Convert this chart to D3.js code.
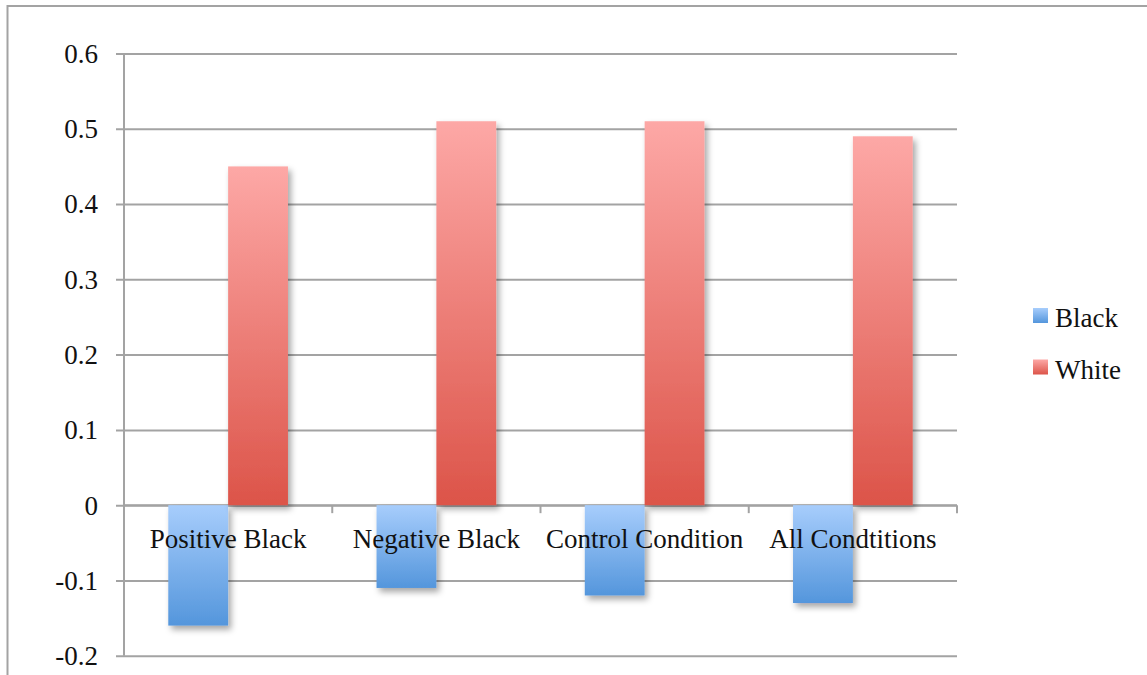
<!DOCTYPE html>
<html>
<head>
<meta charset="utf-8">
<script src="https://cdn.jsdelivr.net/npm/d3@7"></script>
<style>
  html, body { margin: 0; padding: 0; background: #fff; }
  svg { display: block; }
  text { font-family: "Liberation Serif", "DejaVu Serif", serif; fill: #111; }
</style>
</head>
<body>
<svg id="chart" width="1147" height="675"></svg>
<script>
// Condition categories and mean scores for each group
const categories = ["Positive Black", "Negative Black", "Control Condition", "All Condtitions"];
const seriesNames = ["Black", "White"];
const blackValues = [-0.16, -0.11, -0.12, -0.13];
const whiteValues = [0.45, 0.51, 0.51, 0.49];
const yTicks = [-0.2, -0.1, 0, 0.1, 0.2, 0.3, 0.4, 0.5, 0.6];

const svg = d3.select("#chart");
const width = 1147, height = 675;
const plot = { left: 124, right: 957, top: 53.5, bottom: 655.7 };
const fontSize = "27px";

const x = d3.scaleBand().domain(categories).range([plot.left, plot.right]).paddingInner(0).paddingOuter(0);
const inner = d3.scaleBand().domain(seriesNames).range([0, x.bandwidth()]).paddingInner(0).paddingOuter(0.74);
const y = d3.scaleLinear().domain([-0.2, 0.6]).range([plot.bottom, plot.top]);

const defs = svg.append("defs");
function grad(id, top, bottom) {
  const g = defs.append("linearGradient").attr("id", id).attr("x1", 0).attr("y1", 0).attr("x2", 0).attr("y2", 1);
  g.append("stop").attr("offset", "0%").attr("stop-color", top);
  g.append("stop").attr("offset", "100%").attr("stop-color", bottom);
}
grad("gBlack", "#a7cdfc", "#5496dc");
grad("gWhite", "#fda8a6", "#dc5449");
const f = defs.append("filter").attr("id", "shadow").attr("x", "-20%").attr("y", "-20%").attr("width", "150%").attr("height", "150%");
f.append("feDropShadow").attr("dx", 3).attr("dy", 4).attr("stdDeviation", 3).attr("flood-color", "#000").attr("flood-opacity", 0.35);

// outer frame
svg.append("path")
  .attr("d", `M7.5,${height} V6 H${width}`)
  .attr("fill", "none").attr("stroke", "#a3a3a3").attr("stroke-width", 2);

// y axis with gridlines
const yAxis = d3.axisLeft(y).tickValues(yTicks).tickSize(-(plot.right - plot.left)).tickPadding(26)
  .tickFormat(d => d === 0 ? "0" : d3.format(".1f")(d).replace("\u2212", "-"));
const gy = svg.append("g").attr("transform", `translate(${plot.left},0)`).call(yAxis);
gy.select(".domain").remove();
gy.selectAll(".tick line").attr("x1", -8).attr("stroke", "#a3a3a3").attr("stroke-width", 2);
gy.selectAll(".tick text").style("font-size", fontSize).attr("dy", "0.33em").attr("fill", "#111");
svg.append("line").attr("x1", plot.left).attr("x2", plot.left).attr("y1", plot.top).attr("y2", plot.bottom)
  .attr("stroke", "#a3a3a3").attr("stroke-width", 2);

// x axis at zero with tick marks at category boundaries
const bounds = categories.map(c => x(c)).concat([plot.right]);
svg.append("line").attr("x1", plot.left).attr("x2", plot.right).attr("y1", y(0)).attr("y2", y(0))
  .attr("stroke", "#a3a3a3").attr("stroke-width", 2);
svg.selectAll(".xtick").data(bounds).enter().append("line")
  .attr("x1", d => d).attr("x2", d => d).attr("y1", y(0)).attr("y2", y(0) + 8)
  .attr("stroke", "#a3a3a3").attr("stroke-width", 2);

// bars
const rows = categories.map((c, i) => ({ c, vals: [blackValues[i], whiteValues[i]] }));
const groups = svg.selectAll(".cat").data(rows).enter().append("g").attr("transform", d => `translate(${x(d.c)},0)`);
groups.selectAll("rect").data(d => d.vals.map((v, j) => ({ v, s: seriesNames[j] }))).enter().append("rect")
  .attr("x", d => inner(d.s))
  .attr("width", inner.bandwidth())
  .attr("y", d => Math.min(y(d.v), y(0)))
  .attr("height", d => Math.abs(y(d.v) - y(0)))
  .attr("fill", d => d.s === "Black" ? "url(#gBlack)" : "url(#gWhite)")
  .attr("filter", "url(#shadow)");

// category labels
svg.selectAll(".catlabel").data(categories).enter().append("text")
  .attr("x", d => x(d) + x.bandwidth() / 2)
  .attr("y", y(0) + 43)
  .attr("text-anchor", "middle")
  .style("font-size", fontSize)
  .text(d => d);

// legend
const legend = svg.append("g").attr("transform", "translate(1033,308)");
seriesNames.forEach((s, i) => {
  const g = legend.append("g").attr("transform", `translate(0,${i * 51.5})`);
  g.append("rect").attr("width", 15).attr("height", 15).attr("fill", s === "Black" ? "url(#gBlack)" : "url(#gWhite)");
  g.append("text").attr("x", 22).attr("y", 19).style("font-size", fontSize).text(s);
});
</script>
</body>
</html>
